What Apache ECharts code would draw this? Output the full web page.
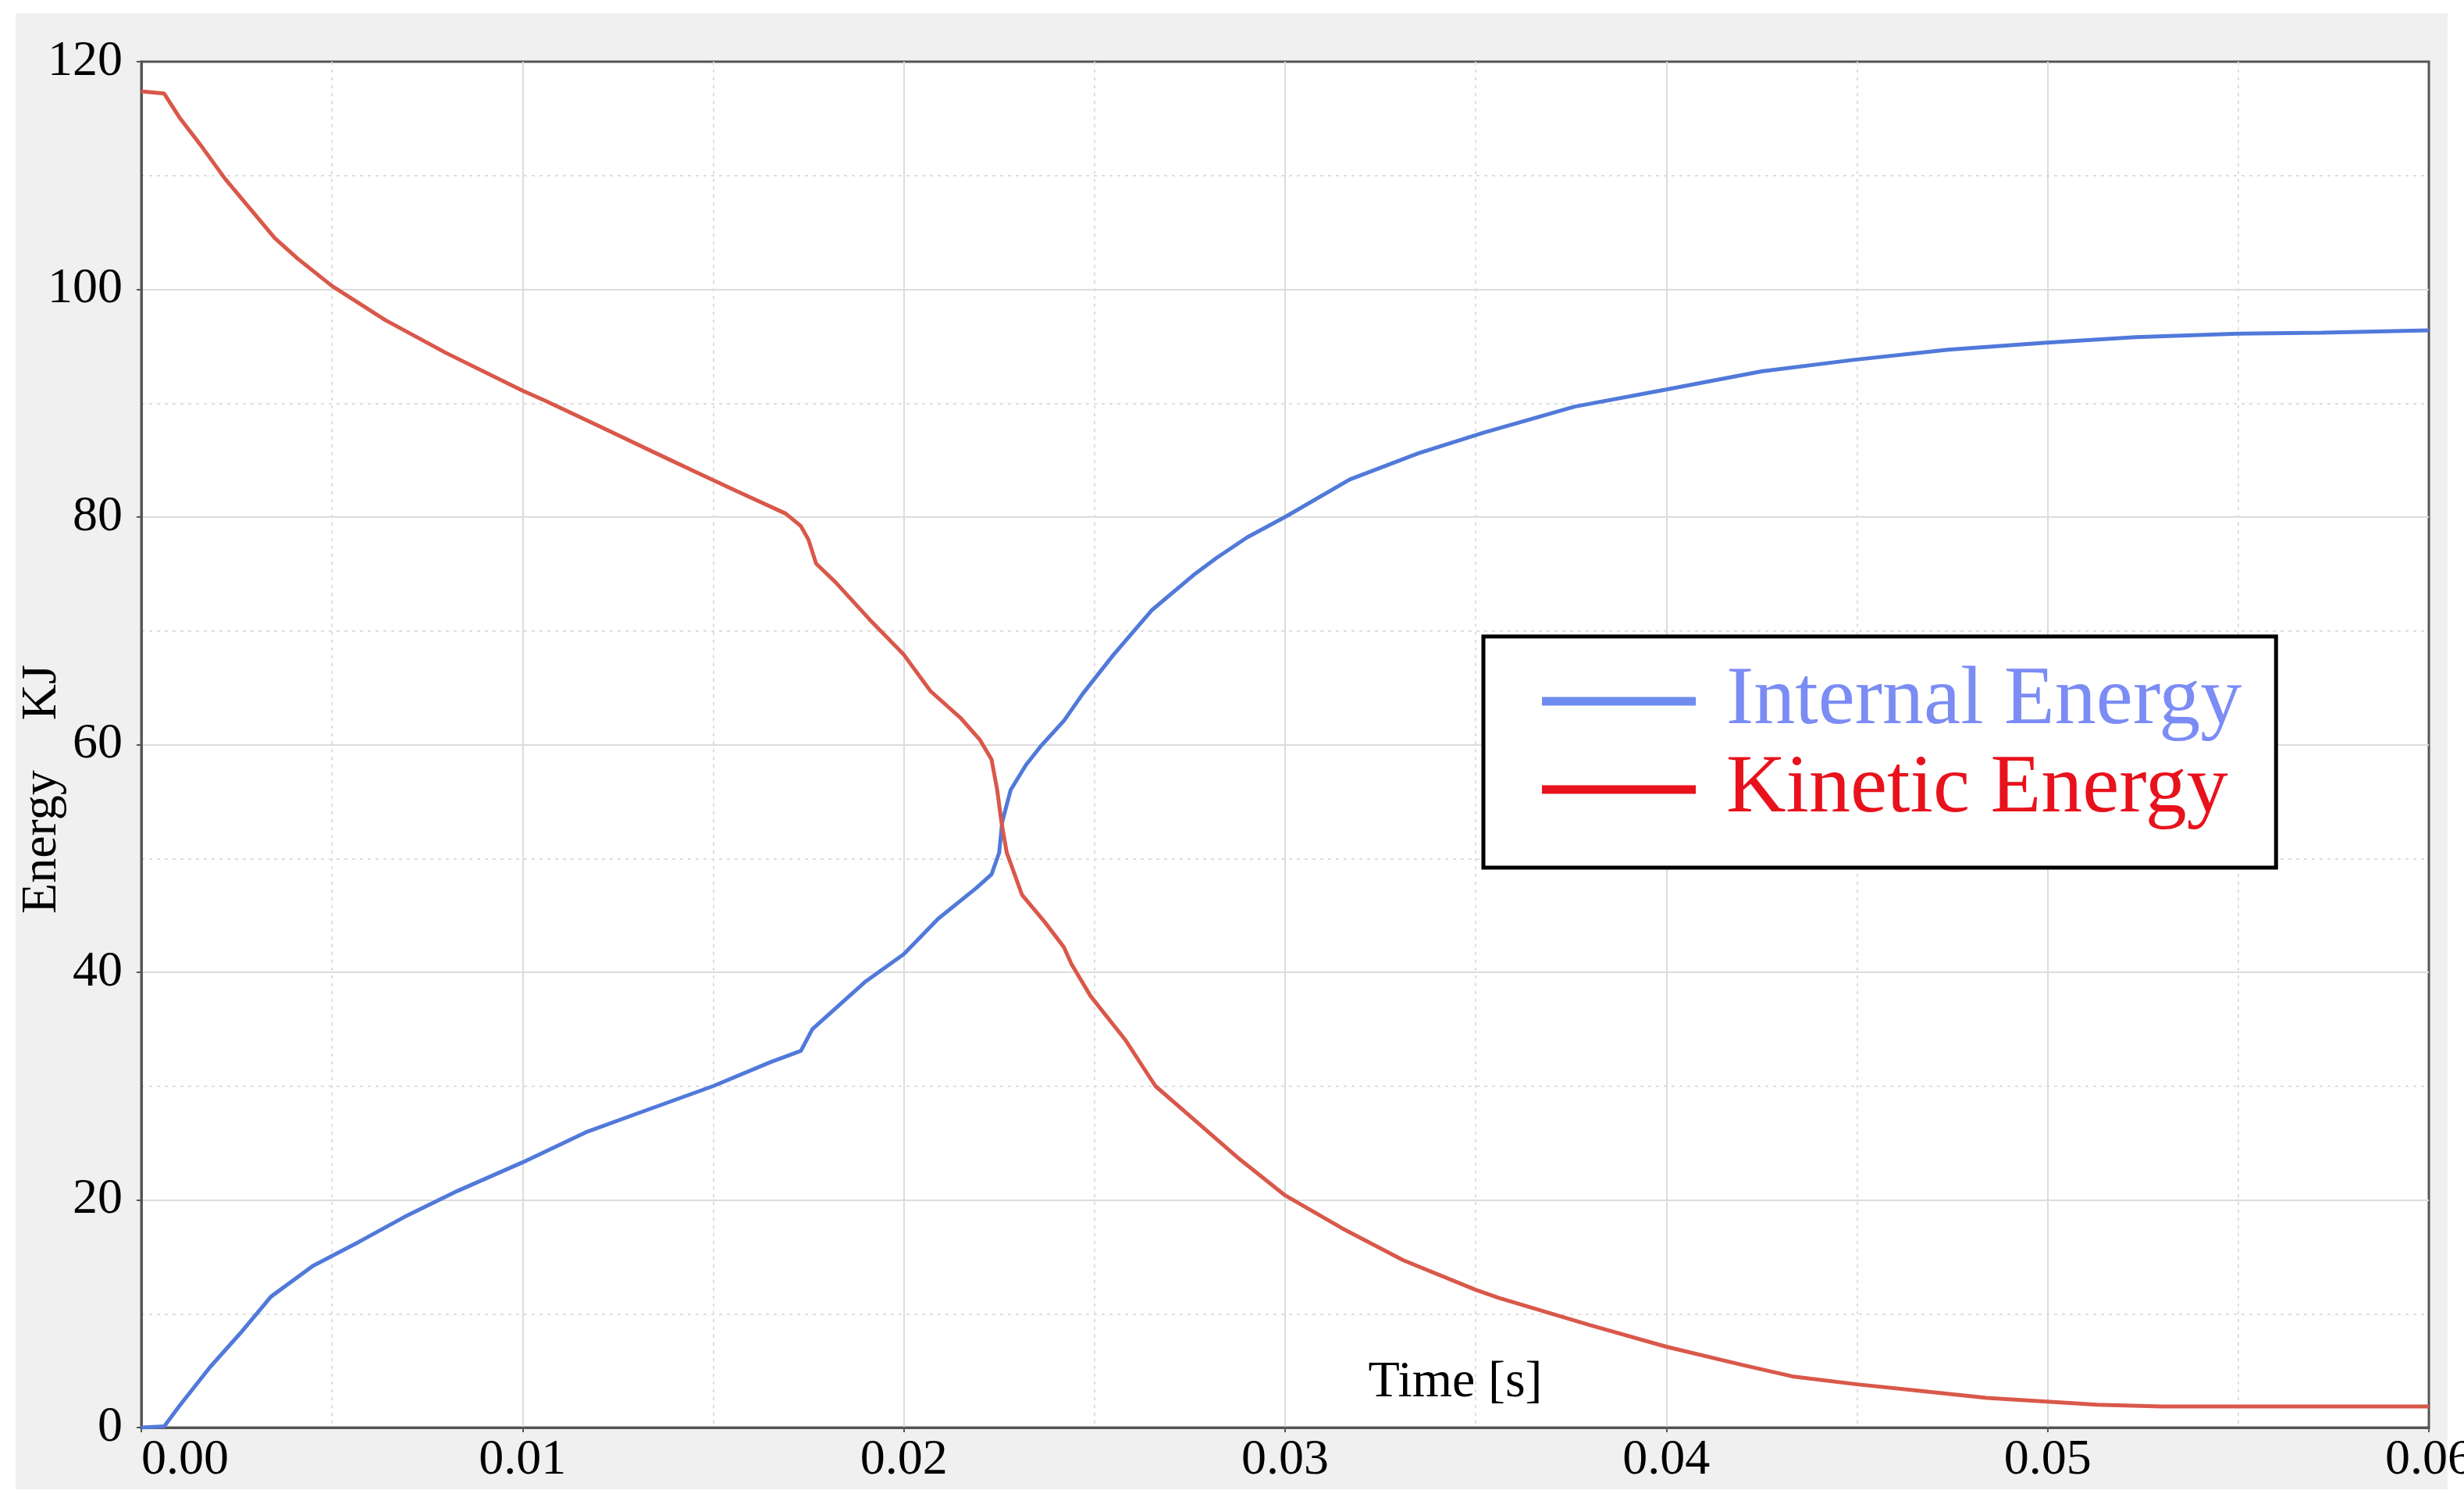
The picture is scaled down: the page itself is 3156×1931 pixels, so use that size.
<!DOCTYPE html>
<html>
<head>
<meta charset="utf-8">
<title>Energy</title>
<script src="https://cdn.jsdelivr.net/npm/echarts@6/dist/echarts.min.js"></script>
<style>
  html, body { margin: 0; padding: 0; background: #fff; }
  .frame { position: absolute; left: 20px; top: 17px; width: 3115px; height: 1890px; background: #f0f0f0; }
  #chart { position: absolute; left: 0; top: 0; width: 3156px; height: 1931px; }
</style>
</head>
<body>
<div class="frame"></div>
<div id="chart"></div>
<script>
// internal energy (blue)
const internalTime = [
  0, 0.0006, 0.001, 0.0018, 0.0026, 0.0034, 0.0045, 0.0057, 0.0069, 0.0083,
  0.01, 0.0117, 0.0131, 0.015, 0.0165, 0.0173, 0.0176, 0.018, 0.019, 0.02,
  0.0209, 0.0219, 0.0223, 0.0225, 0.02258, 0.0228, 0.0232, 0.0236, 0.0242, 0.0247,
  0.0255, 0.0265, 0.0276, 0.0282, 0.029, 0.03, 0.0317, 0.0335, 0.0352, 0.0376,
  0.04, 0.0425, 0.0449, 0.0474, 0.0499, 0.0523, 0.055, 0.0572, 0.06
];
const internalEnergy = [
  0, 0.1, 1.9, 5.3, 8.3, 11.5, 14.2, 16.3, 18.5, 20.8,
  23.3, 26.0, 27.7, 30.0, 32.1, 33.1, 35.0, 36.2, 39.2, 41.6,
  44.7, 47.4, 48.6, 50.5, 53.2, 56.0, 58.2, 59.9, 62.1, 64.5,
  67.9, 71.8, 74.9, 76.4, 78.2, 80.0, 83.3, 85.6, 87.4, 89.7,
  91.2, 92.8, 93.8, 94.7, 95.3, 95.8, 96.1, 96.2, 96.4
];

// kinetic energy (red)
const kineticTime = [
  0, 0.0006, 0.001, 0.00155, 0.0022, 0.0028, 0.0035, 0.0041, 0.005, 0.0064,
  0.008, 0.01, 0.0106, 0.012, 0.0135, 0.0147, 0.0156, 0.0169, 0.0173, 0.0175,
  0.0177, 0.0182, 0.0191, 0.02, 0.0207, 0.0215, 0.022, 0.0223, 0.02245, 0.02256,
  0.0227, 0.0231, 0.0237, 0.0242, 0.0244, 0.0249, 0.0258, 0.0266, 0.0277, 0.0288,
  0.03, 0.0315, 0.0331, 0.035, 0.0356, 0.038, 0.04, 0.042, 0.0433, 0.045,
  0.0467, 0.0484, 0.0499, 0.0513, 0.053, 0.06
];
const kineticEnergy = [
  117.4, 117.2, 115.1, 112.7, 109.7, 107.3, 104.5, 102.7, 100.3, 97.3,
  94.4, 91.1, 90.2, 88.0, 85.6, 83.7, 82.3, 80.3, 79.2, 78.0,
  75.9, 74.3, 71.0, 67.9, 64.7, 62.3, 60.4, 58.7, 56.0, 53.2,
  50.5, 46.8, 44.4, 42.2, 40.7, 37.9, 34.1, 30.0, 26.8, 23.6,
  20.4, 17.5, 14.7, 12.1, 11.4, 9.0, 7.1, 5.5, 4.5, 3.8,
  3.2, 2.6, 2.3, 2.0, 1.85, 1.85
];

const seriesNames = ["Internal Energy", "Kinetic Energy"];

const pairs = (xs, ys) => xs.map((x, i) => [x, ys[i]]);

const serif = "Liberation Serif";
const chart = echarts.init(document.getElementById("chart"));

// shared axis styling
const gridLines = {
  splitLine: { showMinLine: false, showMaxLine: false, lineStyle: { color: "#dcdcdc", width: 2 } },
  minorTick: { show: false, splitNumber: 2 },
  minorSplitLine: { show: true, lineStyle: { color: "#dedede", width: 2, type: [4, 6] } },
  axisLine: { show: true, lineStyle: { color: "#555", width: 3 } },
  axisTick: { show: true, length: 6, lineStyle: { color: "#555", width: 2 } },
};

const option = {
  animation: false,
  grid: {
    left: 181,
    top: 79,
    right: 45,
    bottom: 103,
    outerBoundsMode: "none",
    containLabel: false,
    show: true,
    backgroundColor: "#fff",
    borderColor: "#555",
    borderWidth: 3,
  },
  legend: {
    orient: "vertical",
    left: 1900,
    top: 815,
    padding: [30, 44, 47, 75],
    backgroundColor: "#fff",
    borderColor: "#000",
    borderWidth: 5,
    icon: "rect",
    itemWidth: 197,
    itemHeight: 11,
    itemGap: 7,
    textStyle: {
      fontFamily: serif,
      fontSize: 106,
      lineHeight: 106,
      padding: [0, 0, 0, 34],
    },
    data: [
      {
        name: seriesNames[0],
        itemStyle: { color: "#6f8cf0" },
        textStyle: { color: "#7b8cf5" },
      },
      {
        name: seriesNames[1],
        itemStyle: { color: "#e8121c" },
        textStyle: { color: "#e8121c" },
      },
    ],
  },
  xAxis: {
    type: "value",
    min: 0,
    max: 0.06,
    interval: 0.01,
    name: "Time [s]",
    nameLocation: "middle",
    nameGap: -90,
    nameMoveOverlap: false,
    nameTextStyle: {
      fontFamily: serif,
      fontSize: 66,
      color: "#000",
      padding: [0, 0, 0, 436],
    },
    axisLabel: {
      fontFamily: serif,
      fontSize: 64,
      color: "#000",
      margin: 10,
      alignMinLabel: "left",
      formatter: (v) => v.toFixed(2),
    },
    ...gridLines,
  },
  yAxis: {
    type: "value",
    min: 0,
    max: 120,
    interval: 20,
    name: "Energy    KJ",
    nameLocation: "middle",
    nameGap: 95,
    nameMoveOverlap: false,
    nameTextStyle: {
      fontFamily: serif,
      fontSize: 64,
      color: "#000",
      padding: [0, 114, 0, 0],
    },
    axisLabel: {
      fontFamily: serif,
      fontSize: 64,
      color: "#000",
      margin: 24,
    },
    ...gridLines,
  },
  series: [
    {
      name: seriesNames[0],
      type: "line",
      showSymbol: false,
      color: "#5179da",
      lineStyle: { width: 5, color: "#5179da" },
      data: pairs(internalTime, internalEnergy),
    },
    {
      name: seriesNames[1],
      type: "line",
      showSymbol: false,
      color: "#d9584a",
      lineStyle: { width: 5, color: "#d9584a" },
      data: pairs(kineticTime, kineticEnergy),
    },
  ],
};

chart.setOption(option);
</script>
</body>
</html>
